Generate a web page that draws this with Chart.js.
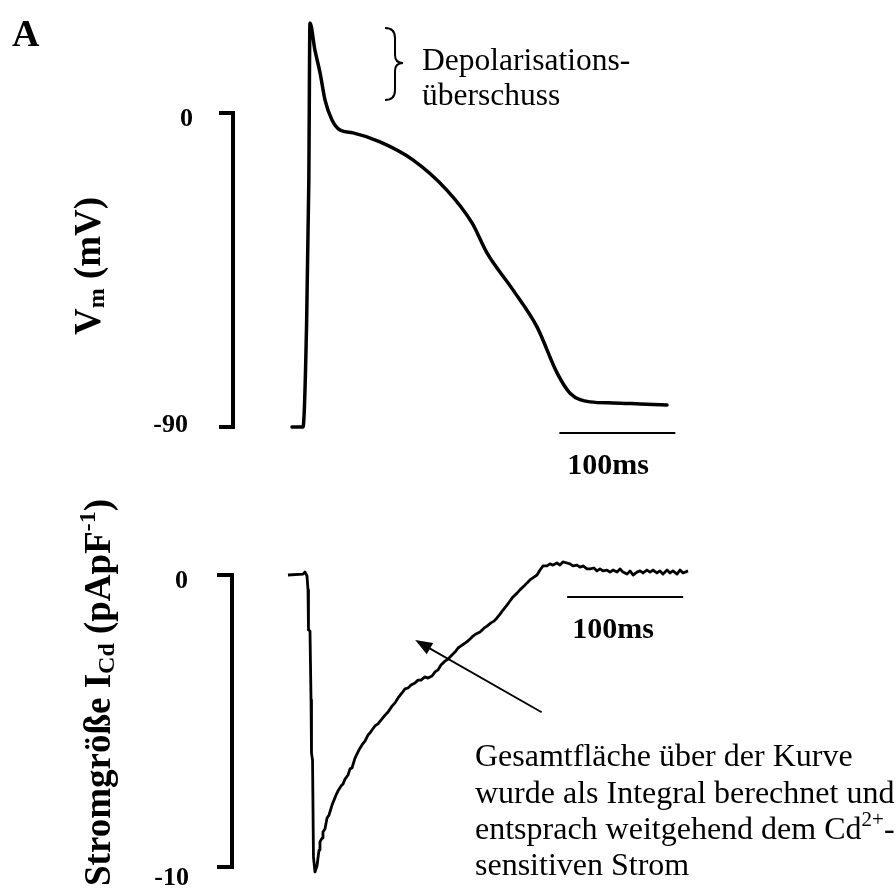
<!DOCTYPE html>
<html>
<head>
<meta charset="utf-8">
<script src="https://cdn.jsdelivr.net/npm/chart.js@4.4.0/dist/chart.umd.min.js"></script>
<style>
  html, body { margin: 0; padding: 0; background: #fff; }
  #wrap { position: relative; width: 896px; height: 889px; }
  canvas { position: absolute; left: 0; top: 0; }
</style>
</head>
<body>
<div id="wrap">
  <canvas id="oben" width="896" height="889"></canvas>
  <canvas id="unten" width="896" height="889"></canvas>
</div>
<script>
// Aktionspotential (oben): Zeit in ms, Membranpotential in mV
const apZeit = [-9.5, 0, 3.0, 5.0, 6.0, 10.3, 14.7, 19.0, 25.0, 31.9, 43.1, 66.4, 95.0, 124.0,
                145.7, 158.6, 181.0, 201.7, 219.0, 230.2, 247.4, 267.2, 290.5, 313.8];
const apVm   = [-90, -90, -62, -20, 25.8, 18.0, 11.5, 3.7, -2.0, -4.9, -5.7, -8.3, -13.5, -22.1,
                -31.5, -40.1, -50.7, -61.3, -74.5, -80.3, -82.8, -83.1, -83.4, -83.7];

// Cd-sensitiver Strom (unten): Zeit in ms, Stromdichte in pA/pF
const stromZeit = [-14.7, -1.7, 0, 1.7, 2.6, 3.0, 4.3, 5.2, 5.6, 6.5, 7.3, 8.6, 10.3, 11.2, 12.1, 12.9,
                   14.7, 15.5, 17.2, 19.0, 20.7, 23.3, 25.0, 26.7, 28.4, 31.0, 32.8, 34.5, 37.1, 38.8,
                   40.5, 43.1, 45.7, 47.4, 49.1, 51.7, 54.3, 56.0, 57.8, 60.3, 62.9, 66.4, 69.0, 71.6,
                   75.0, 77.6, 80.2, 83.6, 86.2, 88.8, 91.4, 94.8, 97.4, 100.0, 103.4, 106.0, 109.5, 112.1,
                   114.7, 117.2, 120.7, 123.3, 126.7, 129.3, 131.9, 134.5, 137.9, 140.5, 144.0, 147.4,
                   150.9, 154.3, 156.9, 160.3, 162.9, 165.5, 168.1, 170.7, 174.1, 176.7, 179.3, 182.8,
                   185.3, 188.8, 191.4, 194.8, 197.4, 200.0, 202.6, 205.2, 208.6, 211.2, 213.8, 217.2,
                   219.8, 222.4, 225.9, 228.4, 231.0, 234.5, 237.1, 239.7, 243.1, 245.7, 249.1, 251.7,
                   254.3, 256.9, 260.3, 262.9, 265.5, 269.0, 271.6, 274.1, 277.6, 280.2, 282.8, 286.2,
                   288.8, 291.4, 294.8, 297.4, 300.0, 303.4, 306.0, 308.6, 312.1, 314.7, 317.2, 320.7,
                   323.3, 325.9, 330.2];
const stromWert = [0, 0.03, 0.10, -0.03, -0.51, -1.88, -1.92, -4.28, -6.10, -6.34, -9.66, -10.17, -9.97, -9.69, -9.42, -9.14,
                   -9.01, -8.80, -8.70, -8.32, -8.22, -7.88, -7.71, -7.54, -7.40, -7.23, -7.16, -6.99, -6.85, -6.64,
                   -6.61, -6.27, -6.06, -5.93, -5.82, -5.69, -5.48, -5.41, -5.31, -5.17, -5.10, -4.93, -4.80, -4.69,
                   -4.49, -4.38, -4.21, -4.04, -3.90, -3.87, -3.77, -3.70, -3.60, -3.60, -3.49, -3.53, -3.46, -3.32,
                   -3.25, -3.08, -2.95, -2.88, -2.74, -2.64, -2.50, -2.43, -2.33, -2.26, -2.12, -2.02,
                   -1.95, -1.82, -1.75, -1.64, -1.58, -1.47, -1.34, -1.20, -1.03, -0.89, -0.75, -0.62,
                   -0.51, -0.38, -0.27, -0.14, -0.07, 0, 0.17, 0.31, 0.31, 0.38, 0.34, 0.41,
                   0.34, 0.45, 0.41, 0.38, 0.31, 0.34, 0.27, 0.31, 0.21, 0.21, 0.24, 0.14,
                   0.21, 0.14, 0.17, 0.10, 0.17, 0.10, 0.21, 0.10, 0.03, 0.14, 0, 0.10,
                   0.14, 0.07, 0.17, 0.10, 0.17, 0.07, 0.14, 0.03, 0.17, 0.07, 0.14, 0.03,
                   0.17, 0.07, 0.14];

const vmTicks = [0, -90];
const stromTicks = [0, -10];

// Massstab 100 ms (Startzeit, Hoehe)
const skalaMs = 100;
const skalaOben = {t: 221, v: -91.7};
const skalaUnten = {t: 226, v: -0.75};

// Pfeil im unteren Bild (von -> nach)
const pfeilVon = {t: 204, v: -4.7};
const pfeilNach = {t: 95, v: -2.23};

const SERIF = "'Liberation Serif', 'Times New Roman', serif";

function zeichneGedreht(ctx, teile, x, yStart) {
  // liest von unten nach oben, beginnt bei yStart
  ctx.save();
  ctx.translate(x, yStart);
  ctx.rotate(-Math.PI / 2);
  ctx.textAlign = 'left';
  ctx.textBaseline = 'alphabetic';
  let cx = 0;
  teile.forEach(p => {
    ctx.font = `bold ${p.s}px ${SERIF}`;
    ctx.fillText(p.t, cx, p.dy || 0);
    cx += ctx.measureText(p.t).width;
  });
  ctx.restore();
}

function breite(ctx, teile) {
  let w = 0;
  teile.forEach(p => {
    ctx.font = `bold ${p.s}px ${SERIF}`;
    w += ctx.measureText(p.t).width;
  });
  return w;
}

function zeichneKlammer(ctx, x, y, yEnde, tickX) {
  ctx.save();
  ctx.strokeStyle = '#000';
  ctx.lineWidth = 4;
  ctx.beginPath();
  ctx.moveTo(tickX, y);
  ctx.lineTo(x, y);
  ctx.lineTo(x, yEnde);
  ctx.lineTo(tickX, yEnde);
  ctx.stroke();
  ctx.restore();
}

function zeichnePfeil(ctx, x1, y1, x2, y2) {
  const ang = Math.atan2(y2 - y1, x2 - x1);
  const len = 17, half = 6.5;
  ctx.save();
  ctx.strokeStyle = '#000';
  ctx.fillStyle = '#000';
  ctx.lineWidth = 1.8;
  ctx.beginPath();
  ctx.moveTo(x1, y1);
  ctx.lineTo(x2 - Math.cos(ang) * len * 0.8, y2 - Math.sin(ang) * len * 0.8);
  ctx.stroke();
  ctx.beginPath();
  ctx.moveTo(x2, y2);
  ctx.lineTo(x2 - len * Math.cos(ang) + half * Math.sin(ang), y2 - len * Math.sin(ang) - half * Math.cos(ang));
  ctx.lineTo(x2 - len * Math.cos(ang) - half * Math.sin(ang), y2 - len * Math.sin(ang) + half * Math.cos(ang));
  ctx.closePath();
  ctx.fill();
  ctx.restore();
}

function massstab(ctx, xs, ys, start, y, dx) {
  const x1 = xs.getPixelForValue(start);
  const x2 = xs.getPixelForValue(start + skalaMs);
  const py = ys.getPixelForValue(y);
  ctx.save();
  ctx.strokeStyle = '#000';
  ctx.lineWidth = 2;
  ctx.beginPath();
  ctx.moveTo(x1, py);
  ctx.lineTo(x2, py);
  ctx.stroke();
  ctx.fillStyle = '#000';
  ctx.font = `bold 30px ${SERIF}`;
  ctx.textAlign = 'left';
  ctx.textBaseline = 'alphabetic';
  ctx.fillText(skalaMs + 'ms', x1 + dx, py + 41);
  ctx.restore();
}

const obenDeko = {
  id: 'obenDeko',
  afterDraw(chart) {
    const ctx = chart.ctx;
    const xs = chart.scales.x, ys = chart.scales.y;
    const y0 = ys.getPixelForValue(vmTicks[0]);
    const y1 = ys.getPixelForValue(vmTicks[1]);
    zeichneKlammer(ctx, 233, y0, y1, 219);

    ctx.save();
    ctx.fillStyle = '#000';
    ctx.font = `bold 26px ${SERIF}`;
    ctx.textAlign = 'right';
    ctx.textBaseline = 'middle';
    ctx.fillText(String(vmTicks[0]), 193, y0 + 6);
    ctx.fillText(String(vmTicks[1]), 188, y1 - 2);

    // Buchstabe A
    ctx.textAlign = 'left';
    ctx.textBaseline = 'alphabetic';
    ctx.font = `bold 38px ${SERIF}`;
    ctx.fillText('A', 12, 46);

    // Depolarisationsueberschuss
    ctx.font = `31.5px ${SERIF}`;
    ctx.fillText('Depolarisations-', 422, 70);
    ctx.fillText('überschuss', 422, 105);

    // geschweifte Klammer
    ctx.strokeStyle = '#000';
    ctx.lineWidth = 2;
    ctx.beginPath();
    ctx.moveTo(385, 28);
    ctx.quadraticCurveTo(395, 28, 395, 38);
    ctx.lineTo(395, 55);
    ctx.quadraticCurveTo(395, 63, 403, 63);
    ctx.quadraticCurveTo(395, 63, 395, 71);
    ctx.lineTo(395, 90);
    ctx.quadraticCurveTo(395, 100, 385, 100);
    ctx.stroke();
    ctx.restore();

    // y-Beschriftung
    const teile = [{t: 'V', s: 37}, {t: 'm', s: 24, dy: 4}, {t: ' (mV)', s: 37}];
    const w = breite(ctx, teile);
    ctx.fillStyle = '#000';
    zeichneGedreht(ctx, teile, 100, 266 + w / 2);

    massstab(ctx, xs, ys, skalaOben.t, skalaOben.v, 8);
  }
};

const untenDeko = {
  id: 'untenDeko',
  afterDraw(chart) {
    const ctx = chart.ctx;
    const xs = chart.scales.x, ys = chart.scales.y;
    const y0 = ys.getPixelForValue(stromTicks[0]);
    const y1 = ys.getPixelForValue(stromTicks[1]);
    zeichneKlammer(ctx, 232, y0, y1, 217);

    ctx.save();
    ctx.fillStyle = '#000';
    ctx.font = `bold 26px ${SERIF}`;
    ctx.textAlign = 'right';
    ctx.textBaseline = 'middle';
    ctx.fillText(String(stromTicks[0]), 188, y0 + 6);
    ctx.fillText(String(stromTicks[1]), 189, y1 + 11);
    ctx.restore();

    ctx.fillStyle = '#000';
    const teile = [{t: 'Stromgröße I', s: 37}, {t: 'Cd', s: 24, dy: 4}, {t: ' (pApF', s: 37},
                   {t: '-1', s: 24, dy: -15}, {t: ')', s: 37}];
    zeichneGedreht(ctx, teile, 110, 886);

    massstab(ctx, xs, ys, skalaUnten.t, skalaUnten.v, 5);

    zeichnePfeil(ctx, xs.getPixelForValue(pfeilVon.t), ys.getPixelForValue(pfeilVon.v),
                 xs.getPixelForValue(pfeilNach.t), ys.getPixelForValue(pfeilNach.v));

    // Erlaeuterung
    ctx.save();
    ctx.fillStyle = '#000';
    ctx.textAlign = 'left';
    ctx.textBaseline = 'alphabetic';
    ctx.font = `32px ${SERIF}`;
    const tx = 475;
    ctx.fillText('Gesamtfläche über der Kurve', tx, 766);
    ctx.fillText('wurde als Integral berechnet und', tx, 803);
    const z3 = 'entsprach weitgehend dem Cd';
    ctx.fillText(z3, tx, 839);
    let cx = tx + ctx.measureText(z3).width;
    ctx.font = `21px ${SERIF}`;
    ctx.fillText('2+', cx, 826);
    cx += ctx.measureText('2+').width;
    ctx.font = `32px ${SERIF}`;
    ctx.fillText('-', cx, 839);
    ctx.fillText('sensitiven Strom', tx, 875);
    ctx.restore();
  }
};

function optionen(xMin, xMax, yMin, yMax, pad) {
  return {
    responsive: false,
    animation: false,
    devicePixelRatio: 1,
    layout: { padding: pad },
    plugins: { legend: { display: false }, tooltip: { enabled: false } },
    scales: {
      x: { type: 'linear', min: xMin, max: xMax, display: false },
      y: { type: 'linear', min: yMin, max: yMax, display: false }
    },
    elements: { point: { radius: 0 } }
  };
}

new Chart(document.getElementById('oben'), {
  type: 'line',
  data: {
    datasets: [{
      data: apZeit.map((t, i) => ({x: t, y: apVm[i]})),
      borderColor: '#000',
      borderWidth: 3.5,
      cubicInterpolationMode: 'monotone',
      borderJoinStyle: 'round',
      borderCapStyle: 'round',
      fill: false
    }]
  },
  options: optionen(-60, 420, -100, 30, {left: 233.4, right: 105.8, top: 8.3, bottom: 427.1}),
  plugins: [obenDeko]
});

new Chart(document.getElementById('unten'), {
  type: 'line',
  data: {
    datasets: [{
      data: stromZeit.map((t, i) => ({x: t, y: stromWert[i]})),
      borderColor: '#000',
      borderWidth: 2.8,
      tension: 0,
      borderJoinStyle: 'round',
      fill: false
    }]
  },
  options: optionen(-60, 420, -10.5, 3, {left: 235.4, right: 103.8, top: 487.4, bottom: 7.4}),
  plugins: [untenDeko]
});
</script>
</body>
</html>
